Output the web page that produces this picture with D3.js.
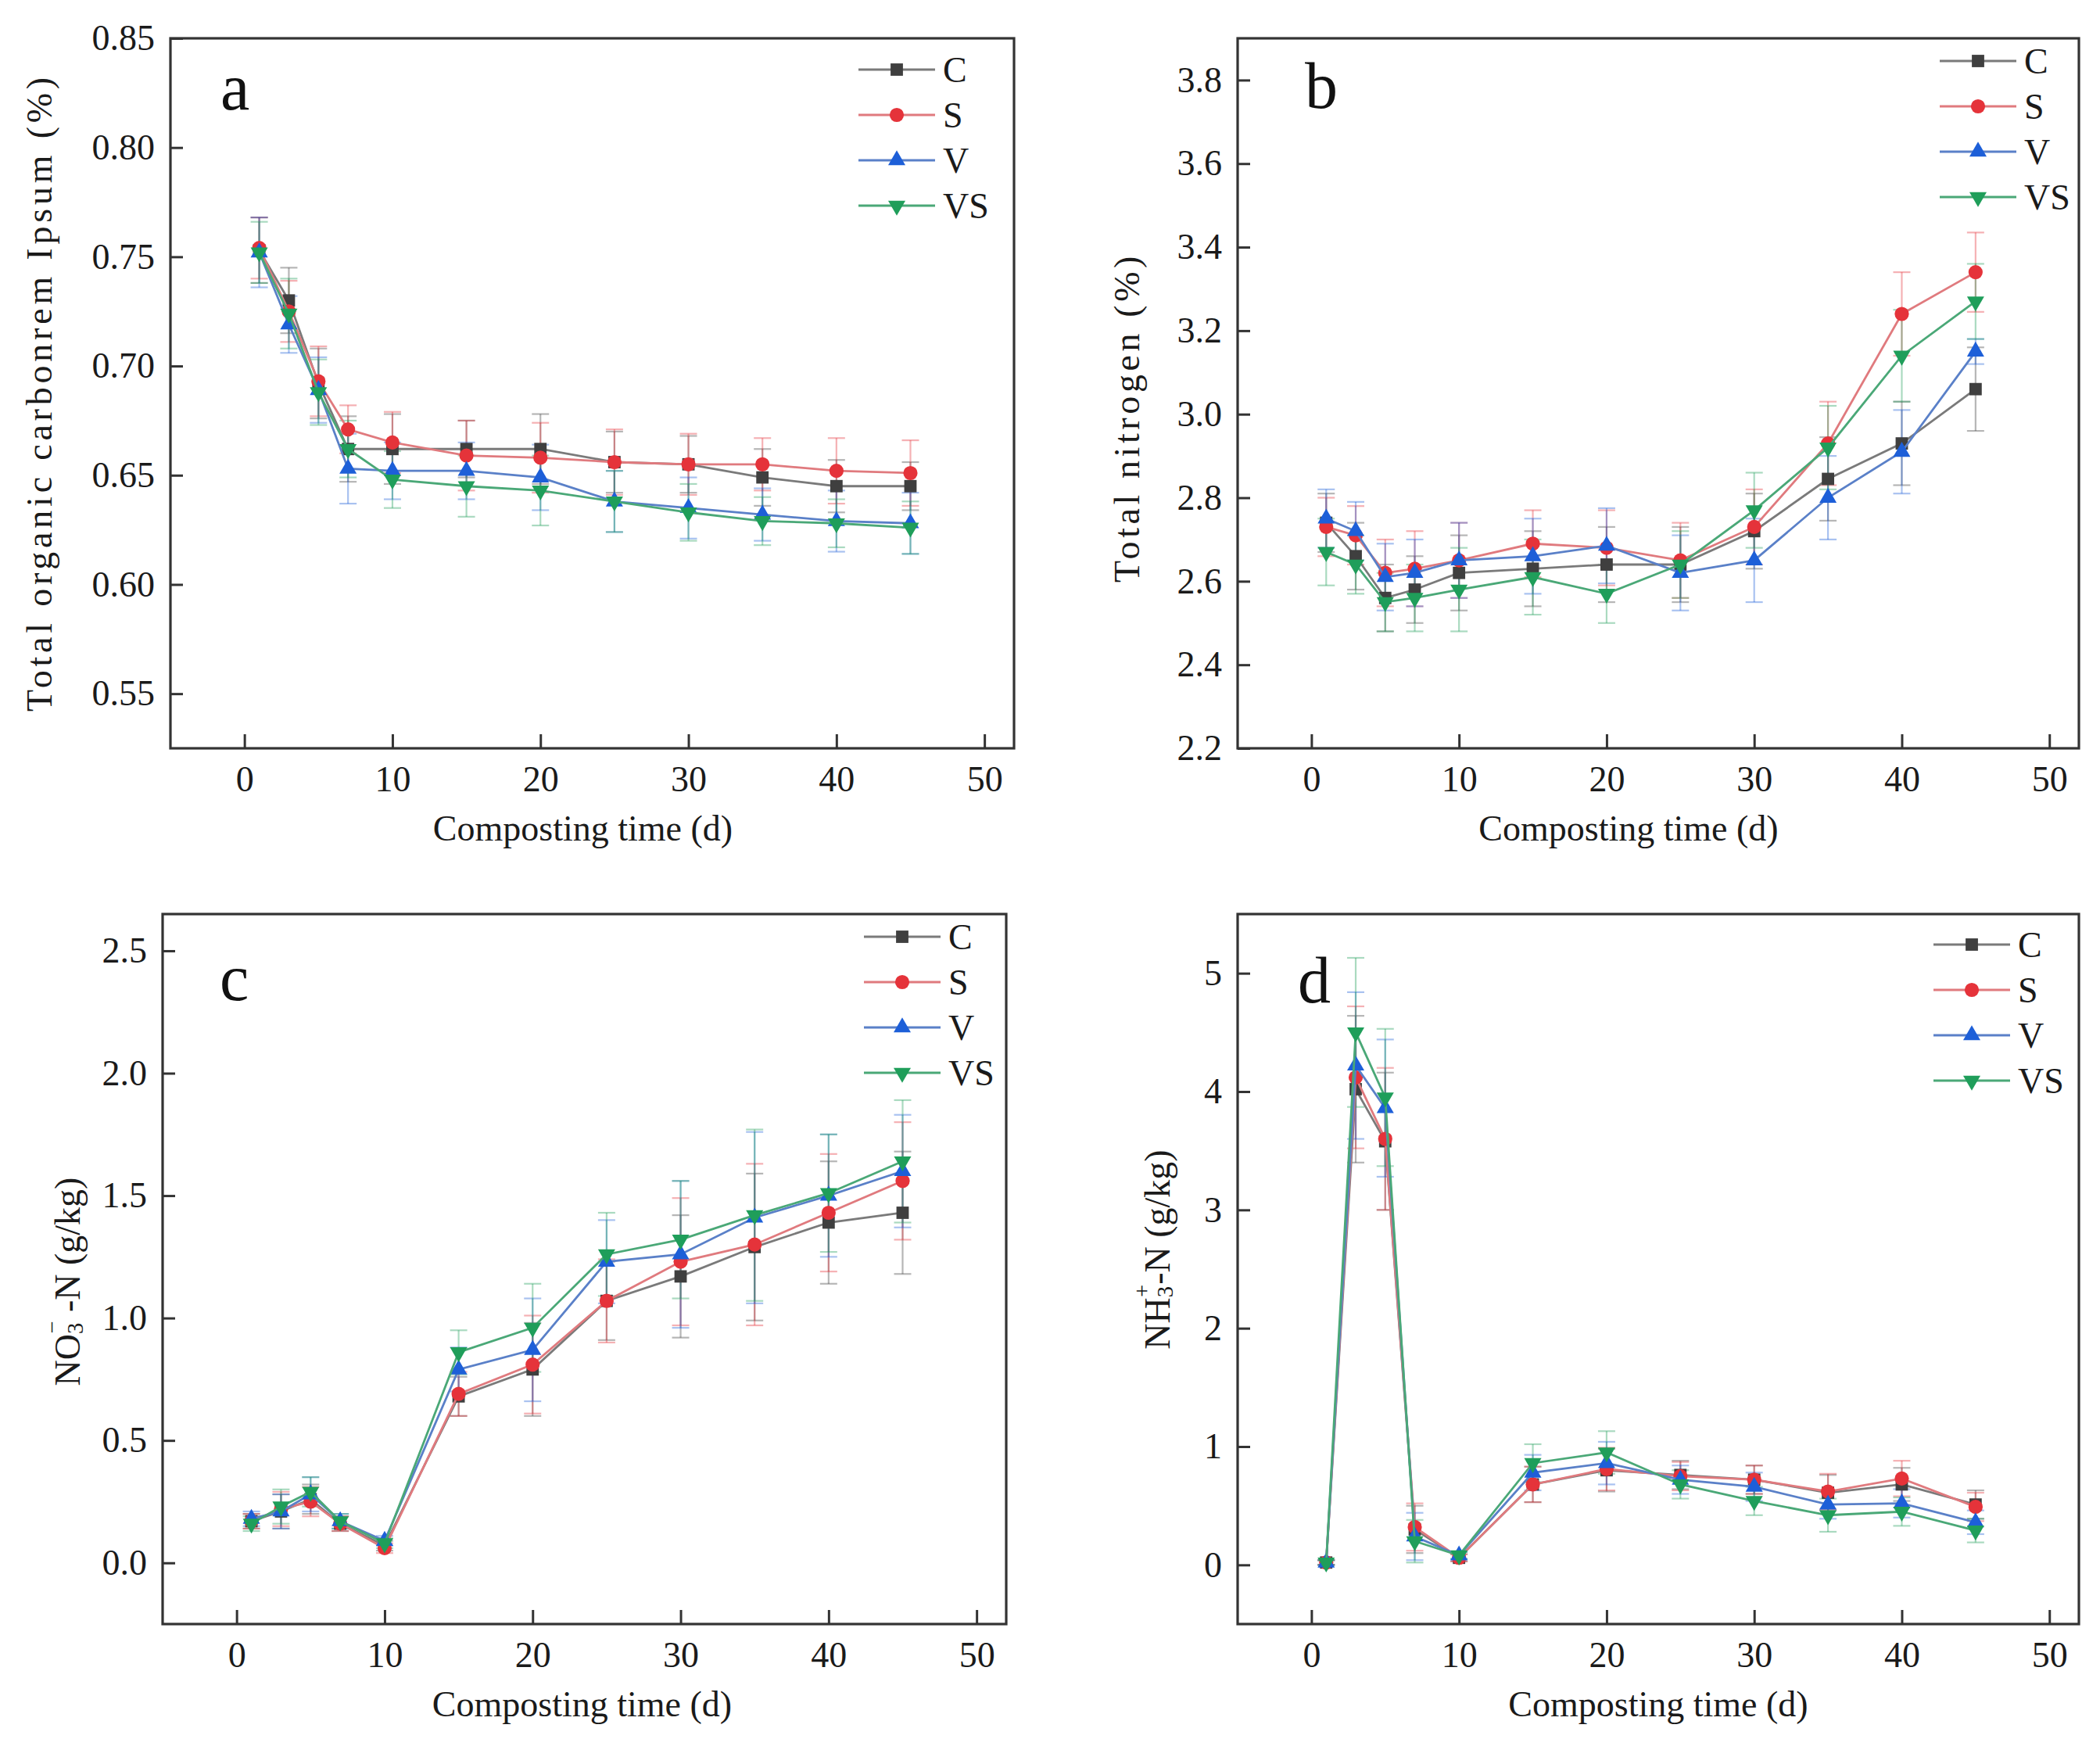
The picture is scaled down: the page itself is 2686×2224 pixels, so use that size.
<!DOCTYPE html>
<html>
<head>
<meta charset="utf-8">
<script src="https://cdn.jsdelivr.net/npm/d3@7/dist/d3.min.js"></script>
<style>
  html, body { margin: 0; padding: 0; background: #fff; }
  svg { display: block; font-family: "Liberation Serif", "Times New Roman", serif; }
</style>
</head>
<body>
<svg id="chart" width="2686" height="2224"></svg>
<script>
// sampling days
const days = [1, 3, 5, 7, 10, 15, 20, 25, 30, 35, 40, 45];
const seriesNames = ["C", "S", "V", "VS"];
const xTicks = [0, 10, 20, 30, 40, 50];

// a: total organic carbon
const tocC  = [0.753, 0.730, 0.692, 0.662, 0.662, 0.662, 0.662, 0.656, 0.655, 0.649, 0.645, 0.645];
const tocS  = [0.754, 0.725, 0.693, 0.671, 0.665, 0.659, 0.658, 0.656, 0.655, 0.655, 0.652, 0.651];
const tocV  = [0.752, 0.719, 0.689, 0.653, 0.652, 0.652, 0.649, 0.638, 0.635, 0.632, 0.629, 0.628];
const tocVS = [0.752, 0.724, 0.688, 0.662, 0.648, 0.645, 0.643, 0.638, 0.633, 0.629, 0.628, 0.626];
const tocErrC  = [0.015, 0.015, 0.016, 0.015, 0.016, 0.013, 0.016, 0.014, 0.013, 0.013, 0.012, 0.011];
const tocErrS  = [0.014, 0.014, 0.016, 0.011, 0.014, 0.016, 0.016, 0.015, 0.014, 0.012, 0.015, 0.015];
const tocErrV  = [0.016, 0.013, 0.015, 0.016, 0.013, 0.013, 0.015, 0.014, 0.014, 0.012, 0.014, 0.014];
const tocErrVS = [0.014, 0.016, 0.015, 0.013, 0.013, 0.014, 0.016, 0.014, 0.013, 0.011, 0.011, 0.012];
const tocTicks = [0.55, 0.60, 0.65, 0.70, 0.75, 0.80, 0.85];

// b: total nitrogen
const tnC  = [2.74, 2.66, 2.56, 2.58, 2.62, 2.63, 2.64, 2.64, 2.72, 2.845, 2.93, 3.06];
const tnS  = [2.73, 2.71, 2.62, 2.63, 2.65, 2.69, 2.68, 2.65, 2.73, 2.93, 3.24, 3.34];
const tnV  = [2.75, 2.72, 2.61, 2.62, 2.65, 2.66, 2.685, 2.62, 2.65, 2.80, 2.91, 3.15];
const tnVS = [2.67, 2.64, 2.55, 2.56, 2.58, 2.61, 2.57, 2.64, 2.77, 2.92, 3.14, 3.27];
const tnErrC  = [0.07, 0.08, 0.08, 0.08, 0.09, 0.09, 0.09, 0.09, 0.09, 0.10, 0.10, 0.10];
const tnErrS  = [0.07, 0.07, 0.08, 0.09, 0.09, 0.08, 0.09, 0.09, 0.09, 0.10, 0.10, 0.095];
const tnErrV  = [0.07, 0.07, 0.08, 0.08, 0.09, 0.09, 0.09, 0.09, 0.10, 0.10, 0.10, 0.03];
const tnErrVS = [0.08, 0.07, 0.07, 0.08, 0.10, 0.09, 0.07, 0.08, 0.09, 0.10, 0.11, 0.09];
const tnTicks = [2.2, 2.4, 2.6, 2.8, 3.0, 3.2, 3.4, 3.6, 3.8];

// c: nitrate
const no3C  = [0.17, 0.21, 0.26, 0.16, 0.07, 0.68, 0.79, 1.07, 1.17, 1.29, 1.39, 1.43];
const no3S  = [0.17, 0.22, 0.25, 0.16, 0.06, 0.69, 0.81, 1.07, 1.23, 1.30, 1.43, 1.56];
const no3V  = [0.18, 0.21, 0.28, 0.17, 0.09, 0.79, 0.87, 1.23, 1.26, 1.41, 1.50, 1.60];
const no3VS = [0.16, 0.23, 0.29, 0.17, 0.08, 0.86, 0.96, 1.26, 1.32, 1.42, 1.51, 1.64];
const no3ErrC  = [0.03, 0.07, 0.06, 0.03, 0.02, 0.08, 0.19, 0.16, 0.25, 0.30, 0.25, 0.25];
const no3ErrS  = [0.03, 0.07, 0.06, 0.03, 0.02, 0.09, 0.20, 0.17, 0.26, 0.33, 0.24, 0.24];
const no3ErrV  = [0.03, 0.07, 0.07, 0.03, 0.02, 0.09, 0.21, 0.17, 0.30, 0.35, 0.25, 0.23];
const no3ErrVS = [0.03, 0.07, 0.06, 0.03, 0.02, 0.09, 0.18, 0.17, 0.24, 0.35, 0.24, 0.25];
const no3Ticks = [0.0, 0.5, 1.0, 1.5, 2.0, 2.5];

// d: ammonium
const nhC  = [0.02, 4.02, 3.58, 0.30, 0.06, 0.68, 0.80, 0.76, 0.72, 0.61, 0.68, 0.51];
const nhS  = [0.02, 4.12, 3.60, 0.32, 0.06, 0.68, 0.81, 0.75, 0.72, 0.62, 0.73, 0.49];
const nhV  = [0.02, 4.22, 3.86, 0.24, 0.08, 0.78, 0.86, 0.72, 0.66, 0.51, 0.52, 0.36];
const nhVS = [0.02, 4.50, 3.95, 0.20, 0.08, 0.86, 0.95, 0.68, 0.54, 0.42, 0.45, 0.29];
const nhErrC  = [0.02, 0.62, 0.58, 0.20, 0.03, 0.15, 0.18, 0.12, 0.12, 0.15, 0.14, 0.12];
const nhErrS  = [0.02, 0.60, 0.60, 0.20, 0.03, 0.15, 0.18, 0.12, 0.12, 0.15, 0.15, 0.12];
const nhErrV  = [0.02, 0.62, 0.58, 0.20, 0.03, 0.15, 0.18, 0.12, 0.12, 0.12, 0.12, 0.10];
const nhErrVS = [0.02, 0.63, 0.58, 0.18, 0.03, 0.16, 0.18, 0.12, 0.12, 0.14, 0.12, 0.10];
const nhTicks = [0, 1, 2, 3, 4, 5];

const MARKER_COLORS = ["#3f3f3f", "#e5333a", "#1d5fd8", "#1f9e5a"];
const LINE_COLORS   = ["#7a7a7a", "#e07a7e", "#5a80c8", "#4aa877"];
const SYMBOLS = [d3.symbolSquare, d3.symbolCircle, d3.symbolTriangle, d3.symbolTriangle];
const SYMBOL_SIZE = [250, 260, 210, 210];
const SYMBOL_ROT = [0, 0, 0, 180];

const FONT = 46;
const svg = d3.select("#chart");

const panels = [
  { letter: "a", left: 218, top: 49, w: 1079, h: 908, yDomain: [0.525, 0.85], ticks: tocTicks, fmt: d3.format(".2f"),
    series: [tocC, tocS, tocV, tocVS], errs: [tocErrC, tocErrS, tocErrV, tocErrVS],
    title: "toc", titleX: 50, titleY: 502, letterSp: 4.8, legX: -199, legY: 40, letX: 64, letY: 91, xtX: -12 },
  { letter: "b", left: 1583, top: 49, w: 1076, h: 908, yDomain: [2.2, 3.9], ticks: tnTicks, fmt: d3.format(".1f"),
    series: [tnC, tnS, tnV, tnVS], errs: [tnErrC, tnErrS, tnErrV, tnErrVS],
    title: "tn", titleX: 1441, titleY: 534, letterSp: 4.6, legX: -178, legY: 29, letX: 86, letY: 89, xtX: -38 },
  { letter: "c", left: 208, top: 1169, w: 1079, h: 908, yDomain: [-0.25, 2.65], ticks: no3Ticks, fmt: d3.format(".1f"),
    series: [no3C, no3S, no3V, no3VS], errs: [no3ErrC, no3ErrS, no3ErrV, no3ErrVS],
    title: "no3", titleX: 86, titleY: 1639, letterSp: 0, legX: -182, legY: 29, letX: 73, letY: 110, xtX: -3 },
  { letter: "d", left: 1583, top: 1169, w: 1076, h: 908, yDomain: [-0.5, 5.5], ticks: nhTicks, fmt: d3.format("d"),
    series: [nhC, nhS, nhV, nhVS], errs: [nhErrC, nhErrS, nhErrV, nhErrVS],
    title: "nh", titleX: 1480, titleY: 1598, letterSp: 0, legX: -186, legY: 39, letX: 77, letY: 113, xtX: 0 }
];

function drawYTitle(p) {
  const t = svg.append("text")
    .attr("transform", `translate(${p.titleX},${p.titleY}) rotate(-90)`)
    .attr("text-anchor", "middle")
    .attr("dominant-baseline", "central")
    .attr("font-size", FONT)
    .attr("fill", "#1a1a1a");
  if (p.title === "toc") {
    t.attr("letter-spacing", p.letterSp).text("Total organic carbonrem Ipsum (%)");
  } else if (p.title === "tn") {
    t.attr("letter-spacing", p.letterSp).text("Total nitrogen (%)");
  } else {
    const head = p.title === "no3" ? "NO" : "NH";
    const sup = p.title === "no3" ? "\u2212" : "+";
    t.append("tspan").text(head);
    t.append("tspan").attr("font-size", FONT * 0.62).attr("dy", 10).text("3");
    t.append("tspan").attr("font-size", FONT * 0.62).attr("dx", -14).attr("dy", -30).text(sup);
    t.append("tspan").attr("dy", 20).text(p.title === "no3" ? " -N (g/kg)" : "-N (g/kg)");
  }
}

panels.forEach(p => {
  const g = svg.append("g").attr("transform", `translate(${p.left},${p.top})`);
  const x = d3.scaleLinear().domain([-5, 52]).range([0, p.w]);
  const y = d3.scaleLinear().domain(p.yDomain).range([p.h, 0]);

  // axes with inward ticks
  const xa = g.append("g").attr("transform", `translate(0,${p.h})`)
    .call(d3.axisBottom(x).tickValues(xTicks).tickSize(-18).tickPadding(22).tickFormat(d3.format("d")));
  const ya = g.append("g")
    .call(d3.axisLeft(y).tickValues(p.ticks).tickSize(-16).tickPadding(20).tickFormat(p.fmt));
  [xa, ya].forEach(a => {
    a.select(".domain").remove();
    a.selectAll(".tick line").attr("stroke", "#333").attr("stroke-width", 3);
    a.selectAll(".tick text").attr("font-size", FONT).attr("fill", "#1a1a1a")
      .attr("font-family", "Liberation Serif, Times New Roman, serif");
  });

  // error bars
  p.series.forEach((vals, si) => {
    const eg = g.append("g").attr("stroke", MARKER_COLORS[si]).attr("stroke-opacity", 0.38).attr("stroke-width", 2.2);
    days.forEach((d, i) => {
      const cx = x(d), lo = y(vals[i] - p.errs[si][i]), hi = y(vals[i] + p.errs[si][i]);
      eg.append("line").attr("x1", cx).attr("x2", cx).attr("y1", lo).attr("y2", hi);
      eg.append("line").attr("x1", cx - 11).attr("x2", cx + 11).attr("y1", lo).attr("y2", lo);
      eg.append("line").attr("x1", cx - 11).attr("x2", cx + 11).attr("y1", hi).attr("y2", hi);
    });
  });

  // lines + markers
  p.series.forEach((vals, si) => {
    const pts = days.map((d, i) => [d, vals[i]]);
    g.append("path")
      .attr("d", d3.line().x(d => x(d[0])).y(d => y(d[1]))(pts))
      .attr("fill", "none").attr("stroke", LINE_COLORS[si]).attr("stroke-width", 2.8);
    g.selectAll(null).data(pts).join("path")
      .attr("transform", d => `translate(${x(d[0])},${y(d[1])}) rotate(${SYMBOL_ROT[si]})`)
      .attr("d", d3.symbol(SYMBOLS[si], SYMBOL_SIZE[si])())
      .attr("fill", MARKER_COLORS[si]);
  });

  // frame
  g.append("rect").attr("width", p.w).attr("height", p.h)
    .attr("fill", "none").attr("stroke", "#333").attr("stroke-width", 3.2);

  // legend
  seriesNames.forEach((name, si) => {
    const ly = p.legY + si * 58;
    const lx0 = p.w + p.legX;
    g.append("line").attr("x1", lx0).attr("x2", lx0 + 98).attr("y1", ly).attr("y2", ly)
      .attr("stroke", LINE_COLORS[si]).attr("stroke-width", 2.8);
    g.append("path")
      .attr("transform", `translate(${lx0 + 49},${ly}) rotate(${SYMBOL_ROT[si]})`)
      .attr("d", d3.symbol(SYMBOLS[si], SYMBOL_SIZE[si])())
      .attr("fill", MARKER_COLORS[si]);
    g.append("text").attr("x", lx0 + 108).attr("y", ly).attr("dominant-baseline", "central")
      .attr("font-size", FONT).attr("fill", "#1a1a1a").text(name);
  });

  // panel letter
  g.append("text").attr("x", p.letX).attr("y", p.letY)
    .attr("font-size", 84).attr("fill", "#111").text(p.letter);

  // x title
  g.append("text").attr("x", p.w / 2 + p.xtX).attr("y", p.h + 118)
    .attr("text-anchor", "middle").attr("font-size", FONT).attr("fill", "#1a1a1a")
    .text("Composting time (d)");

  drawYTitle(p);
});
</script>
</body>
</html>
